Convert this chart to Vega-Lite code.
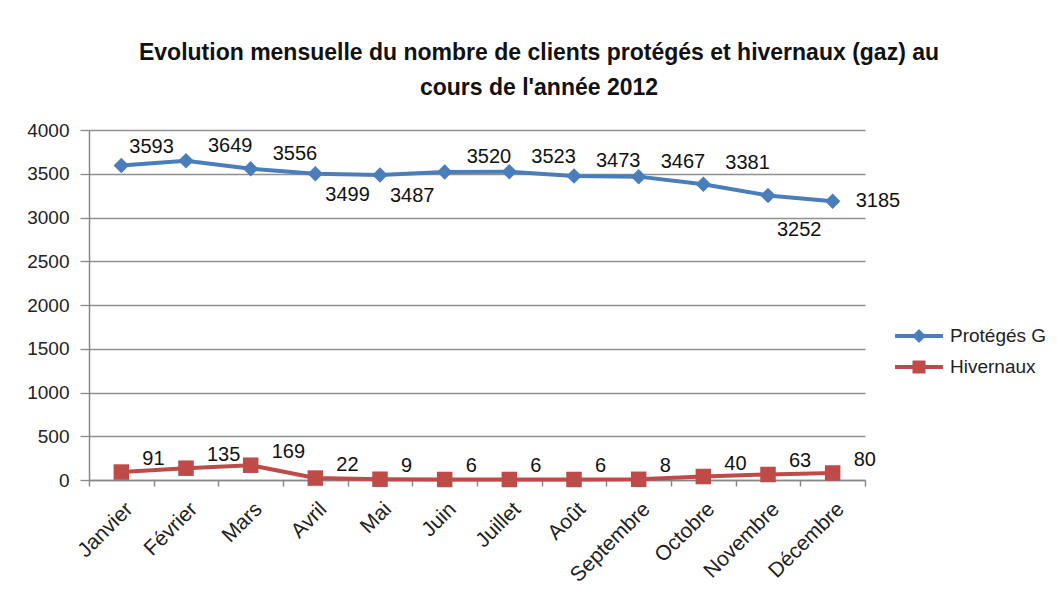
{
  "$schema": "https://vega.github.io/schema/vega-lite/v6.json",
  "width": 776,
  "height": 350,
  "autosize": {"type": "none"},
  "padding": {"left": 89, "top": 130, "right": 192, "bottom": 121},
  "background": "white",
  "title": {
    "text": ["Evolution mensuelle du nombre de clients protégés et hivernaux (gaz) au", "cours de l'année 2012"],
    "font": "Liberation Sans",
    "fontSize": 23,
    "fontWeight": "bold",
    "color": "#111",
    "anchor": "middle",
    "frame": "group",
    "dx": 62,
    "offset": 21,
    "lineHeight": 35
  },
  "data": {
    "values": [
      {"mois": "Janvier", "serie": "Protégés G", "valeur": 3593},
      {"mois": "Février", "serie": "Protégés G", "valeur": 3649},
      {"mois": "Mars", "serie": "Protégés G", "valeur": 3556},
      {"mois": "Avril", "serie": "Protégés G", "valeur": 3499},
      {"mois": "Mai", "serie": "Protégés G", "valeur": 3487},
      {"mois": "Juin", "serie": "Protégés G", "valeur": 3520},
      {"mois": "Juillet", "serie": "Protégés G", "valeur": 3523},
      {"mois": "Août", "serie": "Protégés G", "valeur": 3473},
      {"mois": "Septembre", "serie": "Protégés G", "valeur": 3467},
      {"mois": "Octobre", "serie": "Protégés G", "valeur": 3381},
      {"mois": "Novembre", "serie": "Protégés G", "valeur": 3252},
      {"mois": "Décembre", "serie": "Protégés G", "valeur": 3185},
      {"mois": "Janvier", "serie": "Hivernaux", "valeur": 91},
      {"mois": "Février", "serie": "Hivernaux", "valeur": 135},
      {"mois": "Mars", "serie": "Hivernaux", "valeur": 169},
      {"mois": "Avril", "serie": "Hivernaux", "valeur": 22},
      {"mois": "Mai", "serie": "Hivernaux", "valeur": 9},
      {"mois": "Juin", "serie": "Hivernaux", "valeur": 6},
      {"mois": "Juillet", "serie": "Hivernaux", "valeur": 6},
      {"mois": "Août", "serie": "Hivernaux", "valeur": 6},
      {"mois": "Septembre", "serie": "Hivernaux", "valeur": 8},
      {"mois": "Octobre", "serie": "Hivernaux", "valeur": 40},
      {"mois": "Novembre", "serie": "Hivernaux", "valeur": 63},
      {"mois": "Décembre", "serie": "Hivernaux", "valeur": 80}
    ]
  },
  "encoding": {
    "x": {
      "field": "mois",
      "type": "ordinal",
      "sort": ["Janvier", "Février", "Mars", "Avril", "Mai", "Juin", "Juillet", "Août", "Septembre", "Octobre", "Novembre", "Décembre"],
      "bandPosition": 0.5,
      "scale": {"type": "band", "paddingInner": 0, "paddingOuter": 0},
      "axis": {
        "title": null,
        "labelAngle": -45,
        "tickBand": "extent",
        "grid": false,
        "domainColor": "#888",
        "domainWidth": 1.5,
        "tickColor": "#888",
        "tickWidth": 1.5,
        "tickSize": 6,
        "labelFont": "Liberation Sans",
        "labelFontSize": 21,
        "labelColor": "#222",
        "labelPadding": 12
      }
    },
    "y": {
      "field": "valeur",
      "type": "quantitative",
      "scale": {"domain": [0, 4000]},
      "axis": {
        "title": null,
        "values": [0, 500, 1000, 1500, 2000, 2500, 3000, 3500, 4000],
        "format": "d",
        "grid": true,
        "gridColor": "#8f8f8f",
        "gridWidth": 1.3,
        "domainColor": "#888",
        "domainWidth": 1.5,
        "tickColor": "#888",
        "tickWidth": 1.3,
        "tickSize": 9,
        "labelFont": "Liberation Sans",
        "labelFontSize": 19,
        "labelColor": "#222",
        "labelPadding": 11
      }
    }
  },
  "layer": [
    {
      "mark": {"type": "line", "strokeWidth": 4},
      "encoding": {
        "color": {
          "field": "serie",
          "type": "nominal",
          "scale": {"domain": ["Protégés G", "Hivernaux"], "range": ["#4A7EBB", "#BE4B48"]},
          "legend": {
            "orient": "none",
            "legendX": 809,
            "legendY": 185,
            "title": null,
            "padding": 0,
            "rowPadding": 0,
            "symbolSize": 1764,
            "labelFont": "Liberation Sans",
            "labelFontSize": 19,
            "labelColor": "#222",
            "labelOffset": 10,
            "encode": {
              "symbols": {
                "update": {
                  "shape": {"signal": "datum.value === 'Hivernaux' ? 'M-1.14,-0.095L-0.31,-0.095L-0.31,-0.31L0.31,-0.31L0.31,-0.095L1.14,-0.095L1.14,0.095L0.31,0.095L0.31,0.31L-0.31,0.31L-0.31,0.095L-1.14,0.095Z' : 'M-1.14,-0.095L-0.235,-0.095L0,-0.33L0.235,-0.095L1.14,-0.095L1.14,0.095L0.235,0.095L0,0.33L-0.235,0.095L-1.14,0.095Z'"},
                  "fill": {"signal": "scale('color', datum.value)"},
                  "stroke": {"value": "transparent"},
                  "strokeWidth": {"value": 0},
                  "opacity": {"value": 1}
                }
              }
            }
          }
        }
      }
    },
    {
      "transform": [{"filter": "datum.serie === 'Protégés G'"}],
      "mark": {"type": "point", "filled": true, "opacity": 1, "size": 240, "shape": "diamond"},
      "encoding": {"color": {"field": "serie", "type": "nominal", "legend": null}}
    },
    {
      "transform": [{"filter": "datum.serie === 'Hivernaux'"}],
      "mark": {"type": "point", "filled": true, "opacity": 1, "size": 240, "shape": "square"},
      "encoding": {"color": {"field": "serie", "type": "nominal", "legend": null}}
    },
    {
      "transform": [{"filter": "datum.serie === 'Hivernaux'"}],
      "mark": {"type": "text", "align": "left", "baseline": "middle", "dx": 21, "dy": -13, "font": "Liberation Sans", "fontSize": 20, "color": "#111"},
      "encoding": {"text": {"field": "valeur", "type": "quantitative"}}
    },
    {
      "transform": [{"filter": {"and": [{"field": "serie", "equal": "Protégés G"}, {"field": "mois", "oneOf": ["Février", "Mars", "Juin", "Juillet", "Août", "Septembre"]}]}}],
      "mark": {"type": "text", "align": "left", "baseline": "middle", "dx": 22, "dy": -15, "font": "Liberation Sans", "fontSize": 20, "color": "#111"},
      "encoding": {"text": {"field": "valeur", "type": "quantitative"}}
    },
    {
      "transform": [{"filter": {"and": [{"field": "serie", "equal": "Protégés G"}, {"field": "mois", "oneOf": ["Octobre"]}]}}],
      "mark": {"type": "text", "align": "left", "baseline": "middle", "dx": 22, "dy": -21, "font": "Liberation Sans", "fontSize": 20, "color": "#111"},
      "encoding": {"text": {"field": "valeur", "type": "quantitative"}}
    },
    {
      "transform": [{"filter": {"and": [{"field": "serie", "equal": "Protégés G"}, {"field": "mois", "oneOf": ["Janvier"]}]}}],
      "mark": {"type": "text", "align": "left", "baseline": "middle", "dx": 8, "dy": -19, "font": "Liberation Sans", "fontSize": 20, "color": "#111"},
      "encoding": {"text": {"field": "valeur", "type": "quantitative"}}
    },
    {
      "transform": [{"filter": {"and": [{"field": "serie", "equal": "Protégés G"}, {"field": "mois", "oneOf": ["Avril", "Mai"]}]}}],
      "mark": {"type": "text", "align": "left", "baseline": "middle", "dx": 10, "dy": 21, "font": "Liberation Sans", "fontSize": 20, "color": "#111"},
      "encoding": {"text": {"field": "valeur", "type": "quantitative"}}
    },
    {
      "transform": [{"filter": {"and": [{"field": "serie", "equal": "Protégés G"}, {"field": "mois", "oneOf": ["Novembre"]}]}}],
      "mark": {"type": "text", "align": "left", "baseline": "middle", "dx": 9, "dy": 35, "font": "Liberation Sans", "fontSize": 20, "color": "#111"},
      "encoding": {"text": {"field": "valeur", "type": "quantitative"}}
    },
    {
      "transform": [{"filter": {"and": [{"field": "serie", "equal": "Protégés G"}, {"field": "mois", "oneOf": ["Décembre"]}]}}],
      "mark": {"type": "text", "align": "left", "baseline": "middle", "dx": 23, "dy": 0, "font": "Liberation Sans", "fontSize": 20, "color": "#111"},
      "encoding": {"text": {"field": "valeur", "type": "quantitative"}}
    }
  ],
  "config": {"view": {"stroke": null}}
}
